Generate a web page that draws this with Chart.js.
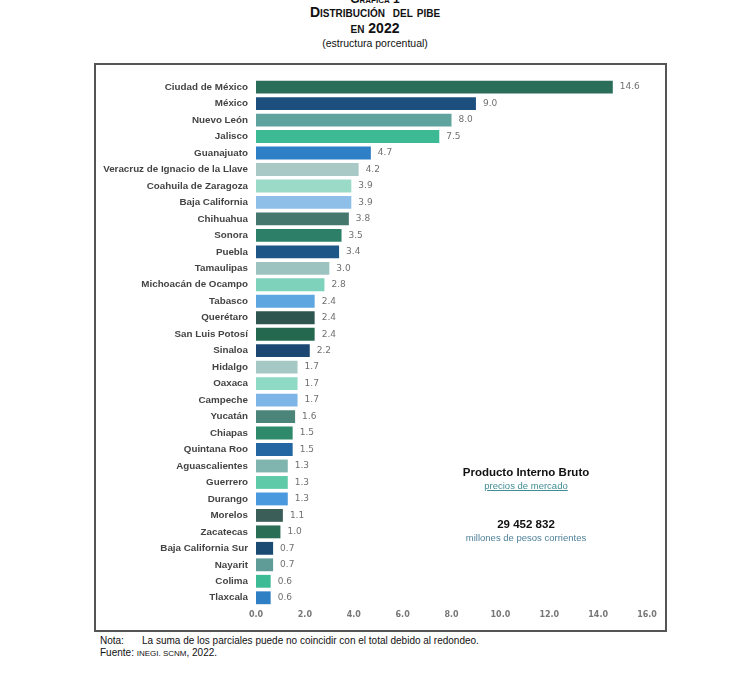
<!DOCTYPE html>
<html>
<head>
<meta charset="utf-8">
<script src="https://cdn.jsdelivr.net/npm/chart.js@4"></script>
<style>
  body { margin: 0; background: #fff; font-family: "Liberation Sans", Arial, sans-serif; }
  #page { position: relative; width: 750px; height: 690px; overflow: hidden; }
  .t { position: absolute; left: 0; width: 750px; text-align: center; color: #111; }
  #box { position: absolute; left: 94px; top: 63px; width: 569px; height: 565px; border: 2px solid #555; }
  #wrap { position: absolute; left: 96px; top: 65px; width: 568px; height: 562px; }
  .ann { position: absolute; left: 420px; width: 212px; text-align: center; }
  .note { position: absolute; font-size: 10px; color: #111; }
</style>
</head>
<body>
<div id="page">
  <div class="t" style="top:-8px;font-size:12px;font-weight:bold;font-variant:small-caps;">Gráfica 1</div>
  <div class="t" style="top:4px;font-size:14px;font-weight:bold;font-variant:small-caps;">Distribución&nbsp; del pibe</div>
  <div class="t" style="top:20px;font-size:14px;font-weight:bold;font-variant:small-caps;">en 2022</div>
  <div class="t" style="top:37px;font-size:10.5px;">(estructura porcentual)</div>
  <div id="box"></div>
  <div id="wrap"><canvas id="pibChart"></canvas></div>
  <div class="ann" style="top:466px;font-size:11.5px;font-weight:bold;color:#111;">Producto Interno Bruto</div>
  <div class="ann" style="top:480px;font-size:9.5px;color:#3f8c93;text-decoration:underline;">precios de mercado</div>
  <div class="ann" style="top:518px;font-size:11.5px;font-weight:bold;color:#111;">29 452 832</div>
  <div class="ann" style="top:532px;font-size:9.5px;color:#4f8199;">millones de pesos corrientes</div>
  <div class="note" style="left:100px;top:635px;">Nota:</div>
  <div class="note" style="left:142px;top:635px;">La suma de los parciales puede no coincidir con el total debido al redondeo.</div>
  <div class="note" style="left:100px;top:647px;">Fuente: <span style="font-size:8px;">INEGI. SCNM</span>, 2022.</div>
</div>
<script>
document.addEventListener("DOMContentLoaded", function () {
  // States, in the order shown
  const states = [
    "Ciudad de México", "México", "Nuevo León", "Jalisco", "Guanajuato",
    "Veracruz de Ignacio de la Llave", "Coahuila de Zaragoza", "Baja California",
    "Chihuahua", "Sonora", "Puebla", "Tamaulipas", "Michoacán de Ocampo",
    "Tabasco", "Querétaro", "San Luis Potosí", "Sinaloa", "Hidalgo", "Oaxaca",
    "Campeche", "Yucatán", "Chiapas", "Quintana Roo", "Aguascalientes",
    "Guerrero", "Durango", "Morelos", "Zacatecas", "Baja California Sur",
    "Nayarit", "Colima", "Tlaxcala",
  ];

  // Share of GDP (%)
  const shares = [
    14.6, 9.0, 8.0, 7.5, 4.7, 4.2, 3.9, 3.9, 3.8, 3.5, 3.4, 3.0, 2.8, 2.4, 2.4,
    2.4, 2.2, 1.7, 1.7, 1.7, 1.6, 1.5, 1.5, 1.3, 1.3, 1.3, 1.1, 1.0, 0.7, 0.7,
    0.6, 0.6,
  ];

  const barColors = [
    "#2a6e5a", "#1d4f7e", "#5fa39e", "#3dba94", "#2e7fc6",
    "#a9c9c7", "#9bdac7", "#8ebfe9", "#46776e", "#2d8067",
    "#1f5688", "#9cc3c0", "#7ed2bc", "#5da6e0", "#2f5550",
    "#24694f", "#1b4772", "#a6c8c5", "#8edac4", "#7db5e6",
    "#4b8479", "#2f8a6c", "#2366a1", "#7fb4af", "#5ecaa8",
    "#4a98de", "#3b5e59", "#2a6e55", "#1b4a72", "#5f9c97",
    "#3dbb95", "#2f7fc4",
  ];

  const xTicks = [0, 2, 4, 6, 8, 10, 12, 14, 16];

  // Writes the value just past the end of each bar
  const valueLabels = {
    id: "valueLabels",
    afterDatasetsDraw(chart) {
      const c = chart.ctx;
      const meta = chart.getDatasetMeta(0);
      c.save();
      c.font = "9px 'DejaVu Sans', sans-serif";
      c.fillStyle = "#707070";
      c.textBaseline = "middle";
      meta.data.forEach((bar, i) => {
        c.fillText(shares[i].toFixed(1), bar.x + 7, bar.y);
      });
      c.restore();
    },
  };

  new Chart(document.getElementById("pibChart"), {
    type: "bar",
    data: {
      labels: states,
      datasets: [{
        data: shares,
        backgroundColor: barColors,
        categoryPercentage: 1.0,
        barPercentage: 0.78,
      }],
    },
    options: {
      indexAxis: "y",
      responsive: true,
      maintainAspectRatio: false,
      animation: false,
      layout: { padding: { top: 11, right: 17, bottom: 0, left: 0 } },
      plugins: { legend: { display: false }, tooltip: { enabled: false } },
      scales: {
        x: {
          min: 0,
          max: 16,
          afterBuildTicks: (s) => { s.ticks = xTicks.map((v) => ({ value: v })); },
          afterFit: (s) => { s.height = 21; },
          grid: { display: false, drawTicks: false },
          border: { display: false },
          ticks: {
            padding: 4,
            color: "#777",
            font: { size: 8, weight: "bold", family: "'DejaVu Sans', sans-serif" },
            callback: (v) => Number(v).toFixed(1),
          },
        },
        y: {
          afterFit: (s) => { s.width = 160; },
          grid: { display: false, drawTicks: false },
          border: { display: false },
          ticks: {
            padding: 8,
            color: "#444",
            autoSkip: false,
            font: { size: 9.8, weight: "bold", family: "'Liberation Sans', Arial, sans-serif" },
          },
        },
      },
    },
    plugins: [valueLabels],
  });
});
</script>
</body>
</html>
